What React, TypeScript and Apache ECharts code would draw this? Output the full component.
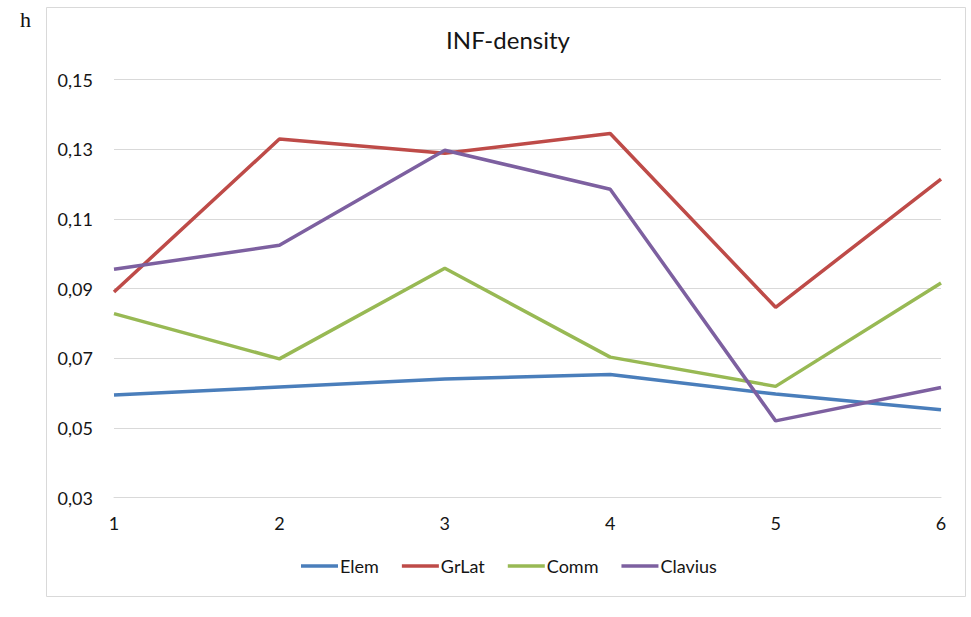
import React, { useEffect, useRef } from "react";
import * as echarts from "echarts";

const categories = ["1", "2", "3", "4", "5", "6"];
const elem = [0.0594, 0.0617, 0.064, 0.0653, 0.0597, 0.0552];
const grLat = [0.089, 0.1329, 0.1288, 0.1345, 0.0846, 0.1214];
const comm = [0.0828, 0.0698, 0.0958, 0.0703, 0.0619, 0.0916];
const clavius = [0.0955, 0.1024, 0.1297, 0.1185, 0.052, 0.0616];
const seriesNames = ["Elem", "GrLat", "Comm", "Clavius"];
const colors = ["#4a7ebb", "#be4b48", "#98b954", "#7d60a0"];

const FONT = "Lato, 'Open Sans', sans-serif";
const TXT = "#151515";

export default function App() {
  const ref = useRef<HTMLDivElement>(null);
  useEffect(() => {
    if (!ref.current) return;
    const chart = echarts.init(ref.current, undefined, { renderer: "svg" });
    const data = [elem, grLat, comm, clavius];
    chart.setOption({
      animation: false,
      backgroundColor: "#ffffff",
      title: {
        text: "INF-density",
        left: 503,
        top: 22,
        textAlign: "center",
        textStyle: { fontFamily: FONT, fontSize: 24, fontWeight: "normal", color: TXT },
      },
      graphic: [
        {
          type: "rect",
          shape: { x: 46.5, y: 7.5, width: 919, height: 589 },
          style: { fill: "none", stroke: "#d9d9d9", lineWidth: 1 },
          silent: true,
        },
        {
          type: "text",
          left: 20,
          top: 8,
          style: { text: "h", fontFamily: "'Liberation Serif', 'DejaVu Serif', serif", fontSize: 22, fill: "#111" },
        },
      ],
      legend: {
        data: seriesNames,
        bottom: 37,
        left: 296,
        itemWidth: 37,
        itemHeight: 3.5,
        itemGap: 23,
        icon: "rect",
        textStyle: { fontFamily: FONT, fontSize: 18, color: TXT, padding: [0, 0, 0, -3] },
      },
      grid: { left: 114, right: 30, top: 79.5, bottom: 119.5 },
      xAxis: {
        type: "category",
        data: categories,
        boundaryGap: false,
        axisLine: { lineStyle: { color: "#d9d9d9", width: 1 } },
        axisTick: { show: false },
        axisLabel: { fontFamily: FONT, fontSize: 18, color: TXT, margin: 16 },
      },
      yAxis: {
        type: "value",
        min: 0.03,
        max: 0.15,
        interval: 0.02,
        axisLine: { show: false },
        axisTick: { show: false },
        splitLine: { lineStyle: { color: "#d9d9d9", width: 1 } },
        axisLabel: {
          fontFamily: FONT,
          fontSize: 18,
          color: TXT,
          margin: 21,
          formatter: (v: number) => v.toFixed(2).replace(".", ","),
        },
      },
      series: seriesNames.map((name, i) => ({
        name,
        type: "line",
        data: data[i],
        showSymbol: false,
        symbol: "none",
        lineStyle: { color: colors[i], width: 3.5 },
        itemStyle: { color: colors[i] },
      })),
    });
    return () => chart.dispose();
  }, []);
  return <div ref={ref} style={{ position: "fixed", left: 0, top: 0, width: 971, height: 617 }} />;
}
